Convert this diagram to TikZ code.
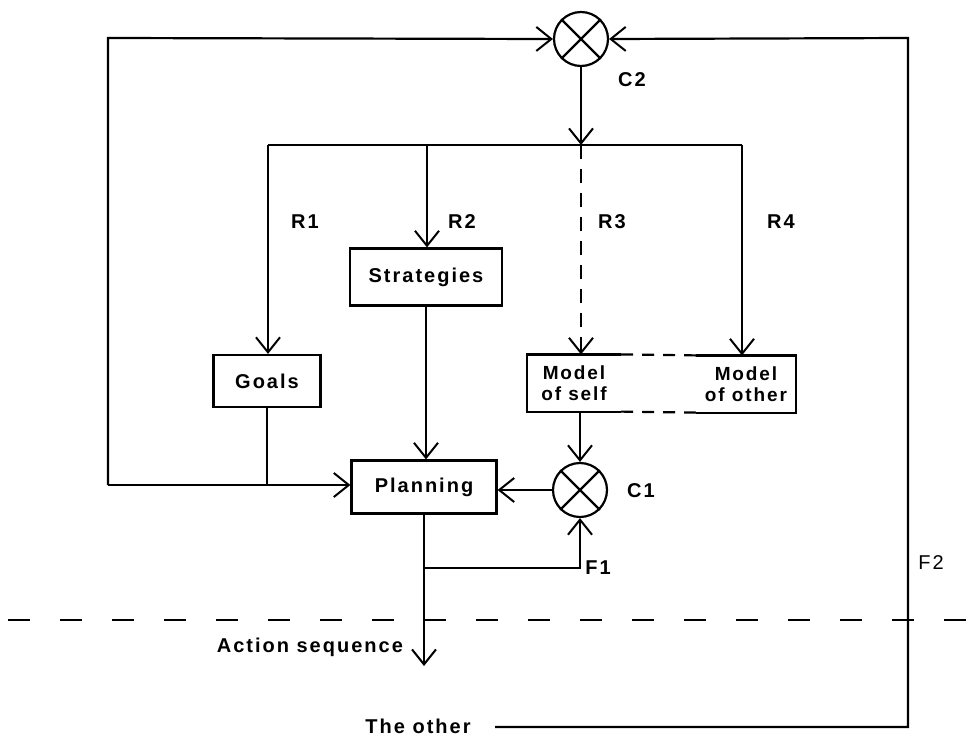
\documentclass[tikz,border=0pt]{standalone}
\usepackage{fontspec}
\setmainfont{Liberation Sans}[LetterSpace=10]
\usetikzlibrary{arrows.meta}
\begin{document}
\begin{tikzpicture}[x=1pt,y=-1pt,line width=2.2pt,
  arr/.style={-{Straight Barb[length=15pt,width=24pt,line width=2pt]}},
  box/.style={draw,rectangle,inner sep=0pt,font=\fontsize{20}{22}\selectfont\bfseries},
  sumj/.style={draw,circle,minimum size=54pt,inner sep=0pt},
  lbl/.style={font=\fontsize{20}{22}\selectfont\bfseries,inner sep=0pt},
  mtext/.style={font=\fontsize{19}{21}\selectfont\bfseries,align=center,inner sep=0pt}]
\useasboundingbox (0,0) rectangle (970,737);
% summing junctions
\node[sumj] (c2) at (581,39) {};
\draw (c2.45) -- (c2.225) (c2.135) -- (c2.315);
\node[sumj] (c1) at (580,490) {};
\draw (c1.45) -- (c1.225) (c1.135) -- (c1.315);
% boxes
\node[box,minimum width=152pt,minimum height=57pt] (strat) at (426,277) {Strategies};
\node[box,minimum width=107pt,minimum height=52pt] (goals) at (267,381) {Goals};
\node[box,minimum width=145pt,minimum height=53pt] (plan) at (424,487) {Planning};
\node[mtext,minimum width=92pt,minimum height=55pt] (mself) at (574,383) {Model\\of self};
\node[mtext,minimum width=98pt,minimum height=55pt] (mother) at (746,384) {Model\\of other};
\draw (mself.north east) -- (mself.north west) -- (mself.south west) -- (mself.south east);
\draw (mother.north west) -- (mother.north east) -- (mother.south east) -- (mother.south west);
\draw[dash pattern=on 12pt off 9pt] (mself.north east) -- (mother.north west);
\draw[dash pattern=on 12pt off 9pt] (mself.south east) -- (mother.south west);
% bus
\coordinate (b1) at (268,145);
\coordinate (b2) at (427,145);
\coordinate (b3) at (581,145);
\coordinate (b4) at (742,145);
\draw[arr] (c2.south) -- (b3);
\draw (b1) -- (b4);
\draw[arr] (b1) -- (b1 |- goals.north);
\draw[arr] (b2) -- (b2 |- strat.north);
\draw[arr,dash pattern=on 14pt off 10pt] (b3) -- (b3 |- mself.north);
\draw[arr] (b4) -- (b4 |- mother.north);
% outer left loop
\coordinate (tl) at (108,38);
\coordinate (bl) at (108,485);
\draw[arr] (bl) -- (tl) -- (c2.west);
\draw[arr] (bl) -- (bl -| plan.west);
\draw (goals.south) -- (goals.south |- bl);
\draw[arr] (strat.south) -- (strat.south |- plan.north);
% C1
\draw[arr] (c1 |- mself.south) -- (c1.north);
\draw[arr] (c1.west) -- (c1.west -| plan.east);
% output
\coordinate (out) at (424,666);
\draw[arr] (plan.south) -- (out);
\coordinate (f1) at (424,568);
\draw[arr] (f1) -| (c1.south);
% boundary
\draw[line width=2.4pt,dash pattern=on 22pt off 30pt,dash phase=-8pt] (0,620) -- (970,620);
% right loop
\node[lbl,inner xsep=0pt] (other) at (418,726) {The other};
\coordinate (oa) at (495,727);
\coordinate (br) at (908,727);
\coordinate (tr) at (908,38);
\draw[arr] (oa) -- (br) -- (tr) -- (c2.east);
% labels
\node[lbl] (lc2) at (632,80) {C2};
\node[lbl] (lr1) at (305,222) {R1};
\node[lbl] (lr2) at (462,222) {R2};
\node[lbl] (lr3) at (612,222) {R3};
\node[lbl] (lr4) at (781,222) {R4};
\node[lbl] (lc1) at (641,491) {C1};
\node[lbl] (lf1) at (598,568) {F1};
\node[font=\fontsize{20}{22}\selectfont,inner sep=0pt] (lf2) at (931,563) {F2};
\node[lbl,anchor=east] (act) at (404,647) {Action sequence};
\end{tikzpicture}
\end{document}
